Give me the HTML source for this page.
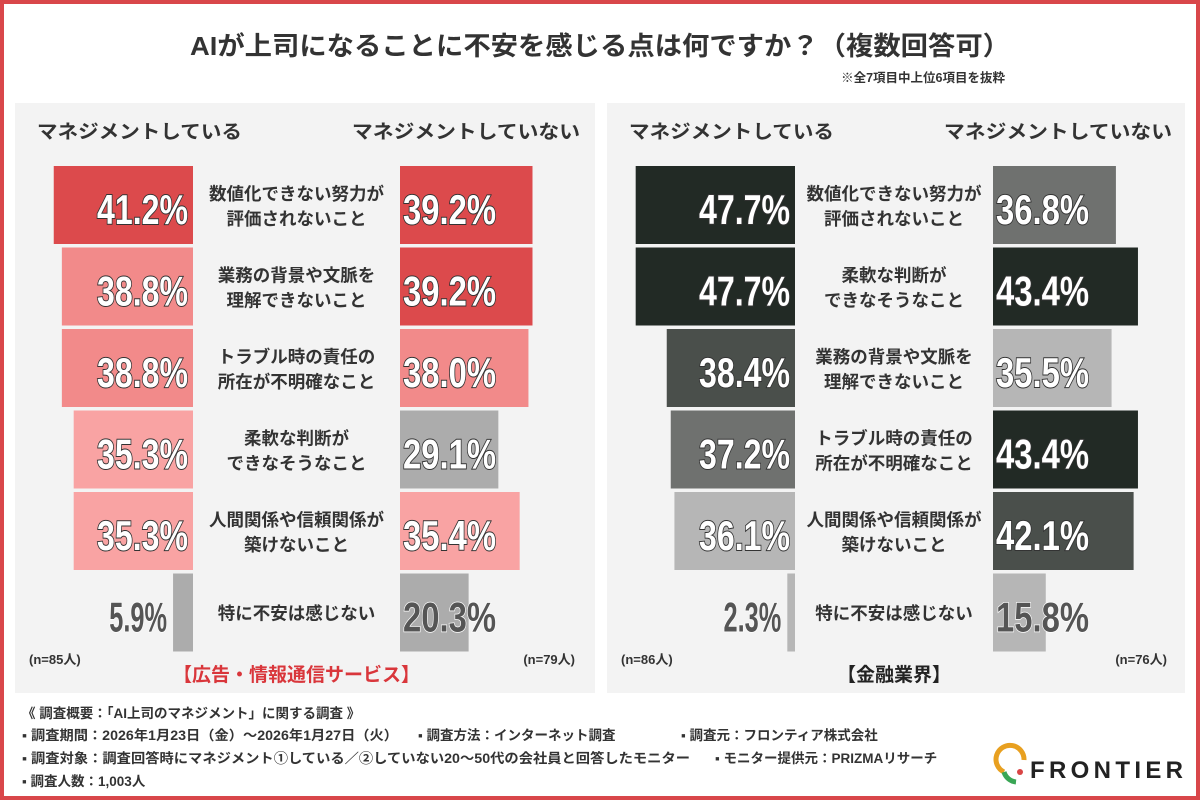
<!DOCTYPE html>
<html><head><meta charset="utf-8">
<style>
html,body{margin:0;padding:0;background:#fff;}
body{width:1200px;height:800px;overflow:hidden;position:relative;font-family:"Liberation Sans","Noto Sans CJK JP",sans-serif;}
svg text{font-family:"Liberation Sans","Noto Sans CJK JP",sans-serif;}
</style></head>
<body>
<svg id="chart" width="1200" height="800" viewBox="0 0 1200 800">
  <rect x="2" y="2" width="1196" height="796" fill="#fff" stroke="#d9474a" stroke-width="4"/>
  <text x="600" y="55" text-anchor="middle" font-size="26" font-weight="bold" fill="#333" textLength="820" lengthAdjust="spacingAndGlyphs">AIが上司になることに不安を感じる点は何ですか？（複数回答可）</text>
  <text x="1005" y="82" text-anchor="end" font-size="12.5" font-weight="bold" fill="#333">※全7項目中上位6項目を抜粋</text>
  <rect x="15" y="103" width="580" height="590" fill="#f3f3f3"/>
  <rect x="607" y="103" width="578" height="590" fill="#f3f3f3"/>
  <g id="plots"></g>
  <g font-size="13.5" font-weight="bold" fill="#333">
    <text x="22" y="718">《 調査概要：「AI上司のマネジメント」に関する調査 》</text>
    <text x="22" y="740" textLength="376" lengthAdjust="spacingAndGlyphs">▪ 調査期間：2026年1月23日（金）～2026年1月27日（火）</text>
    <text x="418" y="740">▪ 調査方法：インターネット調査</text>
    <text x="681" y="740">▪ 調査元：フロンティア株式会社</text>
    <text x="22" y="763" textLength="668" lengthAdjust="spacingAndGlyphs">▪ 調査対象：調査回答時にマネジメント①している／②していない20～50代の会社員と回答したモニター</text>
    <text x="715" y="763">▪ モニター提供元：PRIZMAリサーチ</text>
    <text x="22" y="786">▪ 調査人数：1,003人</text>
  </g>
  <g>
    <path d="M1004,772 A14,14 0 1 1 1024,760" fill="none" stroke="#e8a020" stroke-width="5"/>
    <path d="M1004,772 A14,14 0 0 0 1016,782" fill="none" stroke="#3aa655" stroke-width="5"/>
    <circle cx="1020" cy="772" r="3" fill="#d94545"/>
    <text x="1030" y="778" font-size="24" font-weight="bold" fill="#222" textLength="153" lengthAdjust="spacing">FRONTIER</text>
  </g>
</svg>
<script>
// Panel 1: 広告・情報通信サービス
const categoriesA = [["数値化できない努力が","評価されないこと"],["業務の背景や文脈を","理解できないこと"],["トラブル時の責任の","所在が不明確なこと"],["柔軟な判断が","できなそうなこと"],["人間関係や信頼関係が","築けないこと"],["特に不安は感じない"]];
const managingA = [41.2, 38.8, 38.8, 35.3, 35.3, 5.9];
const notManagingA = [39.2, 39.2, 38.0, 29.1, 35.4, 20.3];
const sampleA = ["(n=85人)", "(n=79人)"];
// Panel 2: 金融業界
const categoriesB = [["数値化できない努力が","評価されないこと"],["柔軟な判断が","できなそうなこと"],["業務の背景や文脈を","理解できないこと"],["トラブル時の責任の","所在が不明確なこと"],["人間関係や信頼関係が","築けないこと"],["特に不安は感じない"]];
const managingB = [47.7, 47.7, 38.4, 37.2, 36.1, 2.3];
const notManagingB = [36.8, 43.4, 35.5, 43.4, 42.1, 15.8];
const sampleB = ["(n=86人)", "(n=76人)"];

const NS = "http://www.w3.org/2000/svg";
const root = document.getElementById("plots");
function mk(tag, attrs, parent, txt) {
  const e = document.createElementNS(NS, tag);
  for (const k in attrs) e.setAttribute(k, attrs[k]);
  if (txt !== undefined) e.textContent = txt;
  parent.appendChild(e);
  return e;
}
function colorA(v){ if (v>=39) return "#dc4a4c"; if (v>=37.5) return "#f28a8a"; if (v>=30) return "#f9a3a3"; return "#acacac"; }
function colorB(v){ if (v>=43) return "#222a25"; if (v>=38) return "#4a4f4b"; if (v>=36.5) return "#6f716f"; return "#b6b6b6"; }

function panel(px, leftEnd, rightStart, scale, title, titleColor, cats, left, right, sample, colorFn, key) {
  const g = mk("g", {}, root);
  
  
  const mid = (leftEnd + rightStart) / 2;
  const rowY = i => 166 + i * 81.5;
  const barH = 78;
  const h1 = mk("text", {x: px + 22, y: 138, "font-size": 19, "font-weight": "bold", fill: "#333", textLength: 205, lengthAdjust: "spacingAndGlyphs"}, g, "マネジメントしている");
  
  
  const h2 = mk("text", {x: px + 565, y: 138, "text-anchor": "end", "font-size": 19, "font-weight": "bold", fill: "#333", textLength: 228, lengthAdjust: "spacingAndGlyphs"}, g, "マネジメントしていない");
  
  
  cats.forEach((c, i) => {
    const y = rowY(i);
    const lw = left[i] * scale, rw = right[i] * scale;
    const lb = mk("rect", {x: leftEnd - lw, y: y, width: lw, height: barH, fill: colorFn(left[i])}, g);
    
    
    const rb = mk("rect", {x: rightStart, y: y, width: rw, height: barH, fill: colorFn(right[i])}, g);
    
    
    const ls = left[i].toFixed(1) + "%";
    const lsmall = left[i] < 25;
    const lt = mk("text", {x: lsmall ? leftEnd - lw - 6 : leftEnd - 5, y: y + 58, "text-anchor": "end", "font-size": 42, "font-weight": "bold",
      fill: lsmall ? "#555" : "#fff", stroke: lsmall ? "#fff" : "#333", "stroke-width": lsmall ? 1.5 : 2, "paint-order": "stroke",
      textLength: ls.length * 18.2 - (ls.length < 5 ? 15 : 0), lengthAdjust: "spacingAndGlyphs"}, g, ls);
    
    
    const rs = right[i].toFixed(1) + "%";
    const rsmall = right[i] < 25;
    const rt = mk("text", {x: rightStart + 3, y: y + 58, "font-size": 42, "font-weight": "bold",
      fill: rsmall ? "#555" : "#fff", stroke: rsmall ? "#fff" : "#333", "stroke-width": rsmall ? 1.5 : 2, "paint-order": "stroke",
      textLength: rs.length * 18.6, lengthAdjust: "spacingAndGlyphs"}, g, rs);
    
    
    const ct = mk("text", {x: mid, "text-anchor": "middle", "font-size": 17.5, "font-weight": "bold", fill: "#333"}, g);
    
    
    if (c.length === 2) {
      mk("tspan", {x: mid, y: y + 34}, ct, c[0]);
      mk("tspan", {x: mid, y: y + 59}, ct, c[1]);
    } else {
      mk("tspan", {x: mid, y: y + 46}, ct, c[0]);
    }
  });
  const n1 = mk("text", {x: px + 14, y: 664, "font-size": 13, "font-weight": "bold", fill: "#333"}, g, sample[0]);
  
  
  const n2 = mk("text", {x: px + 560, y: 664, "text-anchor": "end", "font-size": 13, "font-weight": "bold", fill: "#333"}, g, sample[1]);
  
  
  const t = mk("text", {x: mid, y: 681, "text-anchor": "middle", "font-size": 19, "font-weight": "bold", fill: titleColor}, g, title);
  
  
}
panel(15, 193, 400, 3.38, "【広告・情報通信サービス】", "#d9363b", categoriesA, managingA, notManagingA, sampleA, colorA, "ad-it");
panel(607, 795, 993, 3.34, "【金融業界】", "#222", categoriesB, managingB, notManagingB, sampleB, colorB, "finance");
</script>
</body></html>
